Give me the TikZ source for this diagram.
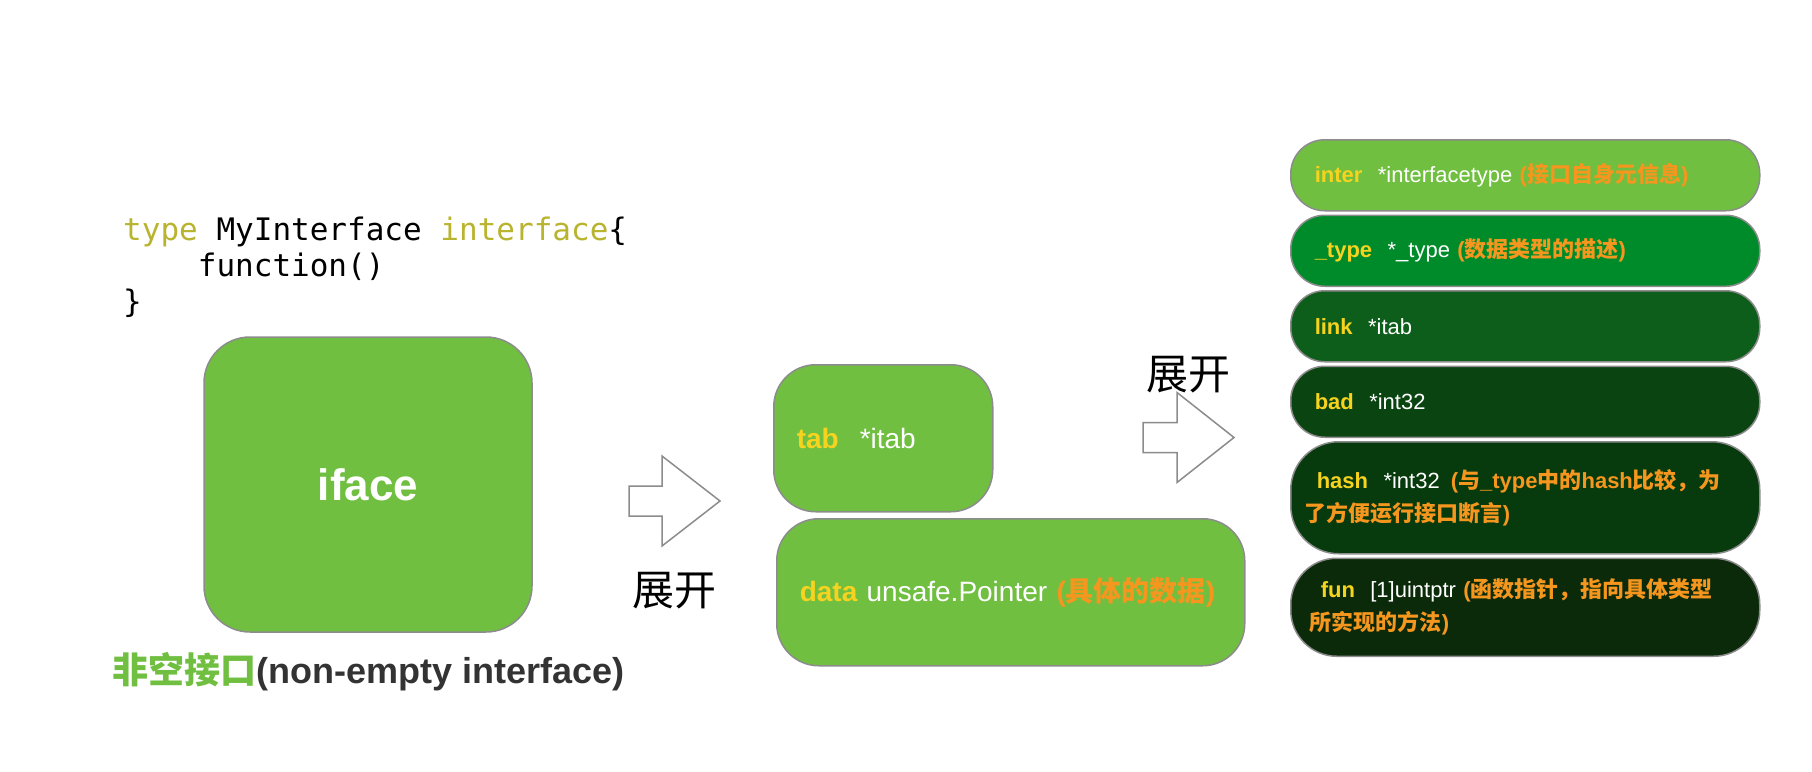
\documentclass[tikz,border=0pt]{standalone}
\usepackage{fontspec}
\setmainfont{Liberation Sans}
\setmonofont{DejaVu Sans Mono}
\newfontfamily\cjk{Noto Sans CJK SC}
\usetikzlibrary{positioning}

\definecolor{lightgreen}{HTML}{70BF41}
\definecolor{green2}{HTML}{008B2B}
\definecolor{green3}{HTML}{0E5E1B}
\definecolor{green4}{HTML}{0A4410}
\definecolor{green5}{HTML}{073A0C}
\definecolor{green6}{HTML}{0B2A09}
\definecolor{boxborder}{HTML}{8C8C8C}
\definecolor{keyyellow}{HTML}{F6D31F}
\definecolor{noteorange}{HTML}{F5961E}
\definecolor{kwolive}{HTML}{B9B42F}
\definecolor{captiongray}{HTML}{333333}

\newcommand{\zh}[1]{{\cjk #1}}
\newcommand{\fieldkey}[1]{\textcolor{keyyellow}{\bfseries #1}}
\newcommand{\fieldnote}[1]{\textcolor{noteorange}{\bfseries #1}}

\tikzset{
  box/.style={draw=boxborder, line width=1.5pt, text=white, align=left},
  field/.style={box, rounded corners=34pt, minimum height=71pt, inner xsep=24pt,
    text width=421pt, font=\fontsize{22}{33}\selectfont},
  expand/.style={draw=boxborder, fill=white, line width=1.5pt, line join=miter}
}

\begin{document}
\begin{tikzpicture}[x=1pt, y=-1pt]
	\useasboundingbox (0,0) rectangle (1812,771);

	% go source
	\node[anchor=north west, align=left, inner sep=0pt,
		font=\ttfamily\fontsize{31}{36}\selectfont] (code) at (123,217)
		{\textcolor{kwolive}{type} MyInterface \textcolor{kwolive}{interface}\{\\
		 \phantom{type}function()\\
		 \}};

	% iface
	\node[box, fill=lightgreen, rounded corners=46pt, minimum width=328pt,
		minimum height=295pt, align=center,
		font=\bfseries\fontsize{44}{44}\selectfont] (iface) at (368,484.5) {iface};
	\node[anchor=west, inner sep=0pt, font=\bfseries\fontsize{36}{36}\selectfont]
		(caption) at (112,672)
		{\textcolor{lightgreen}{\zh{非空接口}}\textcolor{captiongray}{(non-empty interface)}};

	% first expand
	\coordinate (arrA) at (629,501);
	\draw[expand] (arrA) ++(0,-15) -- ++(33,0) -- ++(0,-30) -- ++(58,45)
		-- ++(-58,45) -- ++(0,-30) -- ++(-33,0) -- cycle;
	\node[font=\cjk\fontsize{42}{42}\selectfont] (lblA) at (674,591) {展开};

	% tab + data
	\node[box, fill=lightgreen, rounded corners=42pt, anchor=north west,
		minimum height=147pt, inner xsep=23pt, text width=173pt,
		font=\fontsize{28}{28}\selectfont] (tab) at (773,364)
		{\fieldkey{tab}\hspace{.75em}*itab};
	\node[box, fill=lightgreen, rounded corners=42pt, anchor=north west,
		minimum height=147pt, inner xsep=23pt, text width=422pt,
		font=\fontsize{28}{28}\selectfont] (data) at (776,518)
		{\fieldkey{data} unsafe.Pointer \fieldnote{(\zh{具体的数据})}};

	% second expand
	\coordinate (arrB) at (1143,437.5);
	\draw[expand] (arrB) ++(0,-15) -- ++(34,0) -- ++(0,-30) -- ++(57,45)
		-- ++(-57,45) -- ++(0,-30) -- ++(-34,0) -- cycle;
	\node[font=\cjk\fontsize{42}{42}\selectfont] (lblB) at (1188,375) {展开};

	% itab fields
	\node[field, fill=lightgreen, anchor=north west] (inter) at (1290,139)
		{\fieldkey{inter}\hspace{.7em}*interfacetype \fieldnote{(\zh{接口自身元信息})}};
	\node[field, fill=green2, below=3pt of inter] (type)
		{\fieldkey{\_type}\hspace{.7em}*\_type \fieldnote{(\zh{数据类型的描述})}};
	\node[field, fill=green3, below=3pt of type] (link)
		{\fieldkey{link}\hspace{.7em}*itab};
	\node[field, fill=green4, below=3pt of link] (bad)
		{\fieldkey{bad}\hspace{.7em}*int32};
	\node[field, fill=green5, below=3pt of bad, minimum height=112pt,
		rounded corners=48pt, inner xsep=14pt, text width=441pt] (hash)
		{\hspace*{12pt}\fieldkey{hash}\hspace{.7em}*int32\hspace{.5em}\fieldnote{(\zh{与}\_type\zh{中的}hash\zh{比较，为}}\\
		 \fieldnote{\zh{了方便运行接口断言})}};
	\node[field, fill=green6, below=3pt of hash, minimum height=98pt,
		rounded corners=46pt, inner xsep=19pt, text width=431pt] (fun)
		{\hspace*{11pt}\fieldkey{fun}\hspace{.7em}[1]uintptr \fieldnote{(\zh{函数指针，指向具体类型}}\\
		 \fieldnote{\zh{所实现的方法})}};
\end{tikzpicture}
\end{document}
